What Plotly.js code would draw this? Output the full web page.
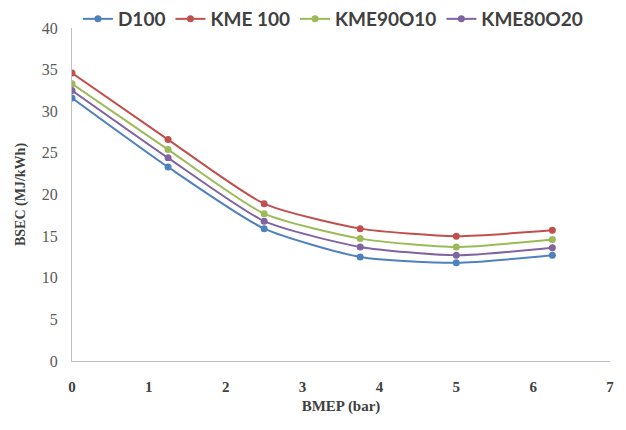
<!DOCTYPE html>
<html>
<head>
<meta charset="utf-8">
<script src="https://cdn.plot.ly/plotly-3.0.1.min.js"></script>
<style>html,body{margin:0;padding:0;background:#fff;}#chart{width:626px;height:430px;}</style>
</head>
<body>
<div id="chart"></div>
<script>
const bmep = [0, 1.25, 2.5, 3.75, 5, 6.25];
const seriesNames = ["D100", "KME 100", "KME90O10", "KME80O20"];
const d100 = [31.6, 23.3, 15.9, 12.5, 11.8, 12.7];
const kme100 = [34.6, 26.6, 18.9, 15.9, 15.0, 15.7];
const kme90o10 = [33.3, 25.4, 17.7, 14.7, 13.7, 14.6];
const kme80o20 = [32.5, 24.4, 16.8, 13.7, 12.7, 13.6];
const colors = ["#4F81BD", "#C0504D", "#9BBB59", "#8064A2"];
const values = [d100, kme100, kme90o10, kme80o20];

const traces = values.map((v, i) => ({
  x: bmep, y: v, name: seriesNames[i], type: 'scatter', mode: 'lines+markers',
  line: {color: colors[i], width: 2, shape: 'spline', smoothing: 0.6},
  marker: {color: colors[i], size: 7}
}));

const serif = 'Liberation Serif';
const layout = {
  width: 626, height: 430,
  margin: {l: 72, r: 16, t: 0, b: 69},
  paper_bgcolor: '#fff', plot_bgcolor: '#fff',
  showlegend: true,
  legend: {orientation: 'h', xref: 'paper', x: 0.011, xanchor: 'left', yref: 'paper', y: 1.0, yanchor: 'top',
    font: {family: 'Lato', size: 19, color: '#404040', weight: 'bold'},
    tracegroupgap: 0, bgcolor: 'rgba(0,0,0,0)'},
  xaxis: {range: [0, 7], dtick: 1, tick0: 0, showgrid: false, zeroline: false,
    showline: true, linecolor: '#BFBFBF', linewidth: 1,
    ticks: 'outside', ticklen: 12, tickcolor: 'rgba(0,0,0,0)',
    tickfont: {family: serif, size: 15, color: '#404040', weight: 'bold'},
    title: {text: 'BMEP (bar)', font: {family: serif, size: 15, color: '#404040', weight: 'bold'}, standoff: 6}},
  yaxis: {range: [0, 40], dtick: 5, tick0: 0, showgrid: false, zeroline: false,
    domain: [0, 0.9224],
    showline: true, linecolor: '#BFBFBF', linewidth: 1,
    ticks: 'outside', ticklen: 10, tickcolor: 'rgba(0,0,0,0)',
    tickfont: {family: serif, size: 16, color: '#595959'},
    title: {text: 'BSEC (MJ/kWh)', font: {family: serif, size: 14, color: '#404040', weight: 'bold'}, standoff: 12}}
};
Plotly.newPlot('chart', traces, layout, {displayModeBar: false, staticPlot: true});
</script>
</body>
</html>
